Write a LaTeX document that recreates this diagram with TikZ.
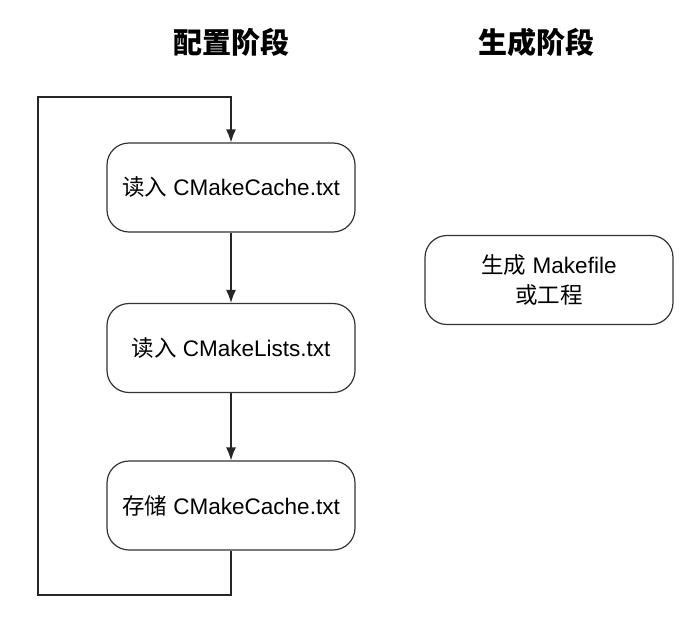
\documentclass[tikz,border=0pt]{standalone}
\usepackage{fontspec}
\setmainfont{Liberation Sans}
\newfontfamily\cjk{Noto Sans CJK SC}
\usetikzlibrary{arrows.meta}
\begin{document}
\begin{tikzpicture}[x=1pt,y=-1pt,
    stage/.style={font=\cjk\bfseries\fontsize{29}{34}\selectfont},
    stepbox/.style={draw=black!80,line width=1.2pt,rounded corners=22pt,
      minimum width=248pt,minimum height=89pt,align=center,
      font=\fontsize{22.5}{30}\selectfont},
    flow/.style={draw=black!85,line width=1.2pt,-{Latex[length=13pt,width=10pt]}}]
  \useasboundingbox (0,0) rectangle (700,624);
  \node[stage] (conf) at (231,42) {配置阶段};
  \node[stage] (gen) at (536,42) {生成阶段};
  \node[stepbox] (0) at (231,187.5) {{\cjk 读入} CMakeCache.txt};
  \node[stepbox] (1) at (231,348) {{\cjk 读入} CMakeLists.txt};
  \node[stepbox] (2) at (231,505.5) {{\cjk 存储} CMakeCache.txt};
  \node[stepbox] (3) at (549,280) {{\cjk 生成} Makefile\\{\cjk 或工程}};
  \coordinate (a) at (231,595);
  \coordinate (b) at (38,595);
  \coordinate (c) at (38,97);
  \coordinate (d) at (231,97);
  \begin{scope}[flow]
    \draw (0) to (1);
    \draw (1) to (2);
    \draw (2.south) -- (a) -- (b) -- (c) -- (d) -- (0.north);
  \end{scope}
\end{tikzpicture}
\end{document}
